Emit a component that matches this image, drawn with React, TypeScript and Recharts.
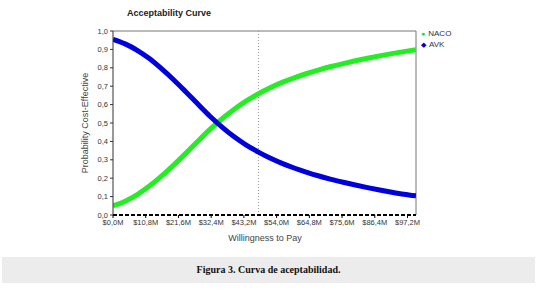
import React from "react"
import { LineChart, Line, XAxis, YAxis, ReferenceLine, Customized } from "recharts"

// willingness to pay, millions
const wtp = [0, 4, 8, 12, 16, 20, 24, 28, 32, 36, 40, 44, 48, 52, 56, 60, 64, 68, 72, 76, 80, 84, 88, 92, 96, 100]
const naco = [0.05, 0.075, 0.111, 0.157, 0.211, 0.271, 0.335, 0.401, 0.465, 0.523, 0.575, 0.62, 0.659, 0.693, 0.722, 0.747, 0.769, 0.789, 0.807, 0.823, 0.838, 0.852, 0.865, 0.877, 0.888, 0.898]
const avk = [0.955, 0.93, 0.895, 0.85, 0.795, 0.735, 0.67, 0.603, 0.537, 0.478, 0.425, 0.38, 0.342, 0.308, 0.279, 0.254, 0.232, 0.212, 0.194, 0.178, 0.163, 0.149, 0.136, 0.124, 0.113, 0.104]
const xTicks = [0, 10.8, 21.6, 32.4, 43.2, 54, 64.8, 75.6, 86.4, 97.2]
const yTicks = [0, 0.1, 0.2, 0.3, 0.4, 0.5, 0.6, 0.7, 0.8, 0.9, 1]
const threshold = 48

const data = wtp.map((w, i) => ({ wtp: w, NACO: naco[i], AVK: avk[i] }))

const font = "Arial, 'Liberation Sans', sans-serif"
const fmtX = (v: number) => `$${v.toFixed(1).replace(".", ",")}M`
const fmtY = (v: number) => v.toFixed(1).replace(".", ",")

function Labels() {
  return (
    <g fontFamily={font}>
      <text x={127} y={16} fontSize={9} fontWeight="bold" fill="#222">Acceptability Curve</text>
      <text x={88} y={123} fontSize={9} fill="#444" textAnchor="middle" transform="rotate(-90 88 123)">Probability Cost-Effective</text>
      <text x={265} y={241} fontSize={9} fill="#444" textAnchor="middle">Willingness to Pay</text>
    </g>
  )
}

export default function App() {
  return (
    <div style={{ position: "absolute", left: 0, top: 0, width: 548, height: 294, background: "#fff" }}>
      <LineChart width={548} height={250} data={data} margin={{ top: 31, right: 132, bottom: 5, left: 0 }}>
        <XAxis
          dataKey="wtp"
          type="number"
          height={30}
          domain={[0, 100]}
          ticks={xTicks}
          tickFormatter={fmtX}
          interval={0}
          tick={{ fontSize: 7.5, fill: "#333", fontFamily: font }}
          tickSize={3}
          tickLine={{ stroke: "#000" }}
          axisLine={{ stroke: "#000", strokeWidth: 2, strokeDasharray: "4 2" }}
          allowDataOverflow
        />
        <YAxis
          width={113}
          type="number"
          domain={[0, 1]}
          ticks={yTicks}
          tickFormatter={fmtY}
          interval={0}
          tick={{ fontSize: 7.5, fill: "#333", fontFamily: font }}
          tickSize={3}
          tickLine={{ stroke: "#333" }}
          axisLine={{ stroke: "#333" }}
        />
        <ReferenceLine y={1} stroke="#777" />
        <ReferenceLine x={100} stroke="#777" />
        <ReferenceLine x={threshold} stroke="#999" strokeDasharray="1 2" />
        <Line type="monotone" dataKey="NACO" stroke="#22ee22" strokeWidth={5} dot={false} isAnimationActive={false} />
        <Line type="monotone" dataKey="AVK" stroke="#0000dd" strokeWidth={5} dot={false} isAnimationActive={false} />
        <Customized component={<Labels />} />
      </LineChart>
      <div style={{ position: "absolute", left: 421, top: 28, fontFamily: font, fontSize: 8, color: "#333", lineHeight: "11px" }}>
        <div><span style={{ color: "#22dd22", fontSize: 7, marginRight: 3 }}>●</span>NACO</div>
        <div><span style={{ color: "#0000cc", fontSize: 7, marginRight: 3 }}>◆</span>AVK</div>
      </div>
      <div
        style={{
          position: "absolute",
          left: 2,
          top: 257,
          width: 533,
          height: 26,
          background: "#ececec",
          fontFamily: "'Liberation Serif', 'Times New Roman', serif",
          fontWeight: "bold",
          fontSize: 10,
          lineHeight: "26px",
          textAlign: "center",
          color: "#111",
        }}
      >
        Figura 3. Curva de aceptabilidad.
      </div>
    </div>
  )
}
